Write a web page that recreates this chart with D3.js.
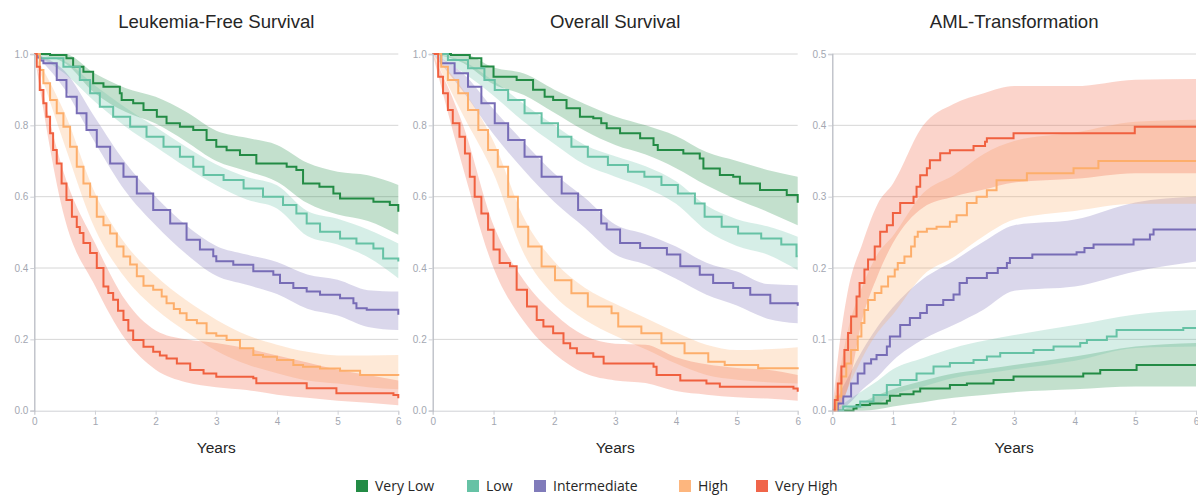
<!DOCTYPE html>
<html>
<head>
<meta charset="utf-8">
<script src="https://cdn.jsdelivr.net/npm/d3@7"></script>
<style>
  html, body { margin: 0; padding: 0; background: #fff; }
  svg { display: block; }
</style>
</head>
<body>
<svg id="chart" width="1198" height="497"></svg>
<script>
// ---- categories & ticks ----
const groups = ["Very Low", "Low", "Intermediate", "High", "Very High"];
const groupColors = ["#238b45", "#66c2a5", "#776cb6", "#fdae6b", "#f0603f"];
const legendColors = ["#238b45", "#66c2a5", "#807bba", "#fdb67e", "#f0654a"];
const panelTitles = ["Leukemia-Free Survival", "Overall Survival", "AML-Transformation"];
const xTicks = [0, 1, 2, 3, 4, 5, 6];
const survTicks = [0, 0.2, 0.4, 0.6, 0.8, 1.0];
const amlTicks = [0, 0.1, 0.2, 0.3, 0.4, 0.5];

// ---- band sample times (years) ----
const bandTimesSurv = [0, 0.5, 1, 1.5, 2, 2.5, 3, 3.5, 4, 4.5, 5, 5.5, 6];
const bandTimesAml = [0, 0.1, 0.25, 0.5, 0.75, 1, 1.5, 2, 2.5, 3, 4, 5, 6];

// ---- Leukemia-free survival ----
const lfsVeryLowT = [0, 0.26, 0.53, 0.64, 0.81, 0.97, 1.14, 1.41, 1.44, 1.63, 1.8, 2.02, 2.18, 2.4, 2.62, 2.84, 3.0, 3.17, 3.39, 3.66, 4.16, 4.32, 4.43, 4.7, 4.93, 5.04, 5.59, 5.86, 6.0];
const lfsVeryLowS = [1, 0.997, 0.988, 0.964, 0.95, 0.918, 0.908, 0.89, 0.871, 0.862, 0.843, 0.824, 0.806, 0.796, 0.787, 0.759, 0.74, 0.73, 0.717, 0.693, 0.684, 0.675, 0.637, 0.628, 0.609, 0.595, 0.586, 0.577, 0.558];
const lfsVeryLowHi = [1, 1.0, 0.945, 0.905, 0.88, 0.838, 0.785, 0.765, 0.745, 0.695, 0.67, 0.66, 0.633];
const lfsVeryLowLo = [1, 0.975, 0.89, 0.838, 0.805, 0.755, 0.7, 0.672, 0.642, 0.582, 0.55, 0.532, 0.493];

const lfsLowT = [0, 0.09, 0.48, 0.75, 0.92, 1.08, 1.3, 1.58, 1.85, 2.13, 2.4, 2.62, 2.79, 3.12, 3.45, 3.77, 4.1, 4.32, 4.49, 4.71, 5.04, 5.31, 5.59, 5.75, 6.0];
const lfsLowS = [1, 0.988, 0.964, 0.927, 0.89, 0.852, 0.824, 0.796, 0.768, 0.74, 0.712, 0.684, 0.661, 0.647, 0.623, 0.6, 0.577, 0.553, 0.525, 0.502, 0.483, 0.469, 0.455, 0.427, 0.418];
const lfsLowHi = [1, 0.98, 0.912, 0.85, 0.795, 0.74, 0.69, 0.655, 0.632, 0.56, 0.538, 0.508, 0.469];
const lfsLowLo = [1, 0.945, 0.866, 0.797, 0.74, 0.683, 0.632, 0.592, 0.567, 0.49, 0.466, 0.43, 0.371];

const lfsInterT = [0, 0.05, 0.1, 0.15, 0.37, 0.53, 0.7, 0.86, 1.03, 1.25, 1.47, 1.69, 1.96, 2.24, 2.51, 2.73, 2.95, 3.0, 3.28, 3.61, 3.94, 4.05, 4.27, 4.49, 4.71, 5.04, 5.26, 5.31, 5.48, 6.0];
const lfsInterS = [1, 0.99, 0.982, 0.974, 0.927, 0.88, 0.834, 0.787, 0.74, 0.693, 0.656, 0.609, 0.563, 0.525, 0.479, 0.452, 0.433, 0.419, 0.409, 0.391, 0.381, 0.358, 0.344, 0.334, 0.325, 0.315, 0.301, 0.287, 0.283, 0.269];
const lfsInterHi = [1, 0.952, 0.822, 0.696, 0.6, 0.52, 0.462, 0.438, 0.417, 0.382, 0.367, 0.338, 0.334];
const lfsInterLo = [1, 0.902, 0.752, 0.616, 0.52, 0.44, 0.378, 0.353, 0.327, 0.286, 0.267, 0.235, 0.226];

const lfsHighT = [0, 0.09, 0.15, 0.26, 0.37, 0.48, 0.59, 0.7, 0.81, 0.92, 1.03, 1.14, 1.25, 1.36, 1.47, 1.58, 1.69, 1.8, 1.96, 2.1, 2.18, 2.3, 2.4, 2.51, 2.68, 2.84, 3.0, 3.17, 3.39, 3.61, 3.77, 4.0, 4.27, 4.43, 4.71, 5.04, 5.37, 6.0];
const lfsHighS = [1, 0.955, 0.918, 0.871, 0.834, 0.796, 0.74, 0.684, 0.637, 0.6, 0.544, 0.52, 0.497, 0.46, 0.432, 0.41, 0.377, 0.35, 0.339, 0.32, 0.301, 0.285, 0.273, 0.254, 0.245, 0.217, 0.21, 0.198, 0.175, 0.156, 0.151, 0.142, 0.128, 0.123, 0.118, 0.112, 0.1, 0.098];
const lfsHighHi = [1, 0.835, 0.61, 0.468, 0.378, 0.31, 0.255, 0.212, 0.185, 0.165, 0.155, 0.155, 0.156];
const lfsHighLo = [1, 0.745, 0.51, 0.372, 0.285, 0.222, 0.168, 0.13, 0.105, 0.085, 0.076, 0.066, 0.06];

const lfsVeryHighT = [0, 0.04, 0.09, 0.15, 0.2, 0.26, 0.31, 0.37, 0.45, 0.53, 0.62, 0.7, 0.75, 0.81, 0.92, 1.03, 1.14, 1.22, 1.3, 1.38, 1.47, 1.55, 1.63, 1.8, 1.96, 2.07, 2.18, 2.35, 2.57, 2.79, 3.0, 3.61, 3.66, 4.49, 4.98, 5.92, 6.0];
const lfsVeryHighS = [1, 0.964, 0.899, 0.862, 0.824, 0.778, 0.731, 0.693, 0.637, 0.591, 0.544, 0.515, 0.498, 0.47, 0.442, 0.4, 0.348, 0.33, 0.311, 0.28, 0.254, 0.225, 0.198, 0.179, 0.165, 0.155, 0.146, 0.132, 0.114, 0.104, 0.095, 0.091, 0.077, 0.063, 0.049, 0.044, 0.035];
const lfsVeryHighHi = [1, 0.66, 0.47, 0.31, 0.225, 0.2, 0.19, 0.175, 0.155, 0.135, 0.115, 0.1, 0.085];
const lfsVeryHighLo = [1, 0.54, 0.35, 0.2, 0.115, 0.08, 0.066, 0.058, 0.045, 0.036, 0.028, 0.022, 0.015];

// ---- Overall survival ----
const osVeryLowT = [0, 0.3, 0.61, 0.8, 1.0, 1.38, 1.65, 1.84, 1.98, 2.2, 2.42, 2.64, 2.77, 2.86, 3.08, 3.41, 3.63, 3.7, 4.12, 4.39, 4.45, 4.72, 4.94, 5.05, 5.38, 5.82, 6.0];
const osVeryLowS = [1, 0.997, 0.988, 0.965, 0.936, 0.927, 0.9, 0.88, 0.871, 0.848, 0.824, 0.82, 0.806, 0.792, 0.778, 0.764, 0.745, 0.731, 0.721, 0.707, 0.679, 0.661, 0.656, 0.637, 0.619, 0.605, 0.583];
const osVeryLowHi = [1, 1.0, 0.962, 0.945, 0.9, 0.86, 0.825, 0.8, 0.77, 0.725, 0.7, 0.675, 0.656];
const osVeryLowLo = [1, 0.975, 0.915, 0.885, 0.835, 0.785, 0.745, 0.718, 0.68, 0.632, 0.592, 0.558, 0.52];

const osLowT = [0, 0.25, 0.58, 0.85, 1.02, 1.24, 1.51, 1.79, 2.06, 2.28, 2.55, 2.88, 3.21, 3.48, 3.76, 4.03, 4.31, 4.47, 4.75, 5.02, 5.4, 5.73, 5.98, 6.0];
const osLowS = [1, 0.983, 0.96, 0.927, 0.899, 0.871, 0.834, 0.806, 0.768, 0.74, 0.712, 0.689, 0.67, 0.656, 0.633, 0.609, 0.581, 0.544, 0.516, 0.497, 0.483, 0.466, 0.433, 0.433];
const osLowHi = [1, 0.98, 0.925, 0.86, 0.8, 0.745, 0.713, 0.685, 0.643, 0.575, 0.537, 0.517, 0.488];
const osLowLo = [1, 0.948, 0.883, 0.81, 0.748, 0.69, 0.656, 0.625, 0.58, 0.505, 0.462, 0.438, 0.394];

const osInterT = [0, 0.14, 0.36, 0.58, 0.8, 1.02, 1.24, 1.51, 1.79, 2.12, 2.39, 2.77, 2.86, 3.08, 3.41, 3.85, 4.07, 4.39, 4.61, 4.94, 5.22, 5.55, 6.0];
const osInterS = [1, 0.974, 0.946, 0.908, 0.862, 0.806, 0.759, 0.712, 0.656, 0.609, 0.563, 0.525, 0.508, 0.47, 0.456, 0.438, 0.405, 0.381, 0.358, 0.344, 0.325, 0.301, 0.294];
const osInterHi = [1, 0.945, 0.845, 0.752, 0.665, 0.597, 0.522, 0.495, 0.46, 0.415, 0.39, 0.355, 0.352];
const osInterLo = [1, 0.895, 0.775, 0.674, 0.585, 0.513, 0.438, 0.41, 0.37, 0.325, 0.295, 0.258, 0.245];

const osHighT = [0, 0.14, 0.25, 0.42, 0.58, 0.75, 0.91, 1.07, 1.24, 1.4, 1.57, 1.79, 2.01, 2.28, 2.55, 2.94, 3.05, 3.43, 3.76, 4.14, 4.53, 4.8, 5.35, 6.0];
const osHighS = [1, 0.964, 0.927, 0.89, 0.843, 0.787, 0.731, 0.684, 0.6, 0.516, 0.46, 0.404, 0.366, 0.329, 0.292, 0.273, 0.236, 0.217, 0.189, 0.161, 0.137, 0.128, 0.119, 0.116];
const osHighHi = [1, 0.9, 0.755, 0.54, 0.418, 0.345, 0.3, 0.26, 0.22, 0.185, 0.17, 0.172, 0.178];
const osHighLo = [1, 0.828, 0.665, 0.44, 0.322, 0.255, 0.21, 0.172, 0.132, 0.1, 0.087, 0.08, 0.076];

const osVeryHighT = [0, 0.09, 0.17, 0.25, 0.33, 0.44, 0.53, 0.61, 0.69, 0.8, 0.91, 1.0, 1.1, 1.27, 1.38, 1.55, 1.71, 1.82, 1.98, 2.15, 2.26, 2.37, 2.64, 2.81, 3.63, 3.68, 4.07, 4.5, 4.72, 5.93, 6.0];
const osVeryHighS = [1, 0.936, 0.89, 0.843, 0.806, 0.768, 0.721, 0.656, 0.6, 0.553, 0.507, 0.452, 0.414, 0.405, 0.339, 0.292, 0.254, 0.236, 0.217, 0.189, 0.175, 0.161, 0.151, 0.132, 0.123, 0.1, 0.085, 0.076, 0.067, 0.062, 0.053];
const osVeryHighHi = [1, 0.8, 0.52, 0.365, 0.272, 0.21, 0.188, 0.185, 0.15, 0.13, 0.12, 0.115, 0.1];
const osVeryHighLo = [1, 0.68, 0.4, 0.25, 0.16, 0.105, 0.085, 0.078, 0.055, 0.045, 0.038, 0.034, 0.028];

// ---- Cumulative incidence of AML transformation ----
const amlVeryLowT = [0, 0.35, 0.4, 0.62, 0.9, 0.95, 1.12, 1.34, 1.45, 1.94, 2.22, 2.66, 2.99, 4.14, 4.42, 5.02, 6.0];
const amlVeryLowS = [0, 0.003, 0.008, 0.01, 0.014, 0.021, 0.023, 0.027, 0.031, 0.036, 0.038, 0.043, 0.048, 0.052, 0.057, 0.064, 0.064];
const amlVeryLowHi = [0, 0, 0.004, 0.012, 0.022, 0.03, 0.042, 0.052, 0.058, 0.064, 0.076, 0.09, 0.095];
const amlVeryLowLo = [0, 0, 0, 0, 0.002, 0.006, 0.012, 0.018, 0.022, 0.026, 0.03, 0.034, 0.034];

const amlLowT = [0, 0.18, 0.46, 0.68, 0.9, 1.12, 1.39, 1.67, 1.94, 2.33, 2.55, 2.77, 3.32, 3.65, 4.09, 4.2, 4.53, 4.69, 5.79, 6.0];
const amlLowS = [0, 0.006, 0.013, 0.022, 0.036, 0.043, 0.052, 0.062, 0.067, 0.071, 0.076, 0.081, 0.085, 0.09, 0.095, 0.099, 0.104, 0.113, 0.116, 0.116];
const amlLowHi = [0, 0.004, 0.014, 0.028, 0.042, 0.058, 0.074, 0.088, 0.098, 0.106, 0.12, 0.135, 0.141];
const amlLowLo = [0, 0, 0.001, 0.004, 0.01, 0.022, 0.034, 0.046, 0.052, 0.058, 0.07, 0.088, 0.09];

const amlInterT = [0, 0.09, 0.18, 0.31, 0.42, 0.53, 0.64, 0.73, 0.9, 0.95, 1.12, 1.28, 1.45, 1.56, 1.83, 2.0, 2.1, 2.22, 2.55, 2.73, 2.88, 2.93, 3.3, 4.03, 4.16, 4.31, 4.97, 5.24, 5.3, 6.0];
const amlInterS = [0, 0.01, 0.02, 0.038, 0.052, 0.066, 0.072, 0.078, 0.09, 0.104, 0.12, 0.13, 0.137, 0.148, 0.155, 0.163, 0.179, 0.186, 0.193, 0.2, 0.207, 0.214, 0.219, 0.222, 0.228, 0.233, 0.24, 0.247, 0.254, 0.254];
const amlInterHi = [0, 0.02, 0.045, 0.085, 0.118, 0.145, 0.185, 0.21, 0.237, 0.26, 0.268, 0.292, 0.3];
const amlInterLo = [0, 0, 0.008, 0.03, 0.048, 0.07, 0.1, 0.12, 0.142, 0.168, 0.174, 0.195, 0.209];

const amlHighT = [0, 0.07, 0.15, 0.23, 0.31, 0.42, 0.48, 0.53, 0.59, 0.7, 0.81, 0.92, 1.03, 1.08, 1.19, 1.3, 1.36, 1.41, 1.56, 1.72, 1.94, 2.05, 2.22, 2.38, 2.55, 2.71, 3.21, 3.98, 4.39, 6.0];
const amlHighS = [0, 0.02, 0.048, 0.066, 0.085, 0.104, 0.123, 0.141, 0.155, 0.165, 0.174, 0.188, 0.198, 0.207, 0.216, 0.23, 0.244, 0.251, 0.255, 0.258, 0.265, 0.274, 0.291, 0.3, 0.309, 0.323, 0.333, 0.34, 0.35, 0.35];
const amlHighHi = [0, 0.045, 0.11, 0.175, 0.22, 0.245, 0.305, 0.33, 0.36, 0.378, 0.39, 0.405, 0.408];
const amlHighLo = [0, 0, 0.03, 0.075, 0.11, 0.135, 0.19, 0.215, 0.245, 0.268, 0.28, 0.29, 0.29];

const amlVeryHighT = [0, 0.04, 0.09, 0.15, 0.2, 0.26, 0.31, 0.4, 0.45, 0.53, 0.59, 0.7, 0.79, 0.9, 1.0, 1.12, 1.34, 1.39, 1.45, 1.56, 1.61, 1.78, 1.94, 2.33, 2.52, 2.55, 2.99, 4.99, 6.0];
const amlVeryHighS = [0, 0.015, 0.038, 0.062, 0.085, 0.109, 0.132, 0.16, 0.179, 0.198, 0.212, 0.23, 0.251, 0.26, 0.277, 0.291, 0.3, 0.314, 0.33, 0.34, 0.351, 0.361, 0.365, 0.371, 0.377, 0.382, 0.389, 0.398, 0.398];
const amlVeryHighHi = [0, 0.08, 0.165, 0.235, 0.29, 0.318, 0.4, 0.43, 0.445, 0.455, 0.455, 0.464, 0.465];
const amlVeryHighLo = [0, 0.005, 0.03, 0.13, 0.19, 0.235, 0.285, 0.3, 0.31, 0.32, 0.325, 0.333, 0.333];

// ---- assemble panels ----
function series(t, s, lo, hi) { return { t, s, lo, hi }; }
const panels = [
  { title: panelTitles[0], yMax: 1.0, yTicks: survTicks, bandT: bandTimesSurv, fmt: d3.format(".1f"),
    series: [series(lfsVeryLowT, lfsVeryLowS, lfsVeryLowLo, lfsVeryLowHi), series(lfsLowT, lfsLowS, lfsLowLo, lfsLowHi),
             series(lfsInterT, lfsInterS, lfsInterLo, lfsInterHi), series(lfsHighT, lfsHighS, lfsHighLo, lfsHighHi),
             series(lfsVeryHighT, lfsVeryHighS, lfsVeryHighLo, lfsVeryHighHi)] },
  { title: panelTitles[1], yMax: 1.0, yTicks: survTicks, bandT: bandTimesSurv, fmt: d3.format(".1f"),
    series: [series(osVeryLowT, osVeryLowS, osVeryLowLo, osVeryLowHi), series(osLowT, osLowS, osLowLo, osLowHi),
             series(osInterT, osInterS, osInterLo, osInterHi), series(osHighT, osHighS, osHighLo, osHighHi),
             series(osVeryHighT, osVeryHighS, osVeryHighLo, osVeryHighHi)] },
  { title: panelTitles[2], yMax: 0.5, yTicks: amlTicks, bandT: bandTimesAml, fmt: d3.format(".1f"),
    series: [series(amlVeryLowT, amlVeryLowS, amlVeryLowLo, amlVeryLowHi), series(amlLowT, amlLowS, amlLowLo, amlLowHi),
             series(amlInterT, amlInterS, amlInterLo, amlInterHi), series(amlHighT, amlHighS, amlHighLo, amlHighHi),
             series(amlVeryHighT, amlVeryHighS, amlVeryHighLo, amlVeryHighHi)] }
];

// ---- layout ----
const svg = d3.select("#chart");
const plotTop = 54, plotBottom = 410.7;
const plotX = [[34.3, 398.3], [432.7, 797.7], [832.3, 1196]];
const tickColor = "#a3a7b1";

panels.forEach((p, i) => {
  const x = d3.scaleLinear().domain([0, 6]).range(plotX[i]);
  const y = d3.scaleLinear().domain([0, p.yMax]).range([plotBottom, plotTop]);
  const g = svg.append("g");

  // horizontal grid
  g.append("g").selectAll("line").data(p.yTicks.filter(v => v > 0)).join("line")
    .attr("x1", plotX[i][0]).attr("x2", plotX[i][1])
    .attr("y1", d => y(d)).attr("y2", d => y(d))
    .attr("stroke", "#d6d6d6").attr("stroke-width", 1);

  // confidence bands
  p.series.forEach((s, k) => {
    const pts = p.bandT.map((t, j) => ({ t, lo: s.lo[j], hi: s.hi[j] }));
    const area = d3.area().curve(d3.curveMonotoneX)
      .x(d => x(d.t)).y0(d => y(d.lo)).y1(d => y(d.hi));
    g.append("path").attr("d", area(pts))
      .attr("fill", groupColors[k]).attr("fill-opacity", 0.27).attr("stroke", "none");
  });

  // step curves
  p.series.forEach((s, k) => {
    const pts = s.t.map((t, j) => [t, s.s[j]]);
    const line = d3.line().curve(d3.curveStepAfter).x(d => x(d[0])).y(d => y(d[1]));
    g.append("path").attr("d", line(pts))
      .attr("fill", "none").attr("stroke", groupColors[k]).attr("stroke-width", 2);
  });

  // axes
  const xAxis = d3.axisBottom(x).tickValues(xTicks).tickSize(4).tickPadding(3).tickFormat(d3.format("d"));
  const xg = g.append("g").attr("transform", `translate(0,${plotBottom})`).call(xAxis);
  xg.select(".domain").attr("stroke", "#cfd1d6");
  xg.selectAll(".tick line").attr("stroke", "#cfd1d6");
  xg.selectAll("text").attr("fill", tickColor).attr("font-family", "Liberation Sans, Arial, sans-serif").attr("font-size", 10);

  const yAxis = d3.axisLeft(y).tickValues(p.yTicks).tickSize(4).tickPadding(2).tickFormat(p.fmt);
  const yg = g.append("g").attr("transform", `translate(${plotX[i][0]},0)`).call(yAxis);
  yg.select(".domain").attr("stroke", "#b9bcc4").attr("stroke-width", 1.3);
  yg.selectAll(".tick line").attr("stroke", "#cfd1d6");
  yg.selectAll("text").attr("fill", tickColor).attr("font-family", "Liberation Sans, Arial, sans-serif").attr("font-size", 10);

  const cx = (plotX[i][0] + plotX[i][1]) / 2;
  g.append("text").attr("x", cx).attr("y", 28).attr("text-anchor", "middle")
    .attr("font-family", "Liberation Sans, Arial, sans-serif").attr("font-size", 18.6).attr("fill", "#262626")
    .text(p.title);
  g.append("text").attr("x", cx).attr("y", 453).attr("text-anchor", "middle")
    .attr("font-family", "Liberation Sans, Arial, sans-serif").attr("font-size", 15.5).attr("fill", "#262626")
    .text("Years");
});

// ---- legend ----
const legendX = [356, 467, 534, 679, 756];
const lg = svg.append("g");
groups.forEach((name, k) => {
  lg.append("rect").attr("x", legendX[k]).attr("y", 480).attr("width", 12).attr("height", 12)
    .attr("fill", legendColors[k]);
  lg.append("text").attr("x", legendX[k] + 19).attr("y", 491)
    .attr("font-family", "Open Sans, Noto Sans, sans-serif").attr("font-size", 14).attr("fill", "#262626")
    .text(name);
});
</script>
</body>
</html>
